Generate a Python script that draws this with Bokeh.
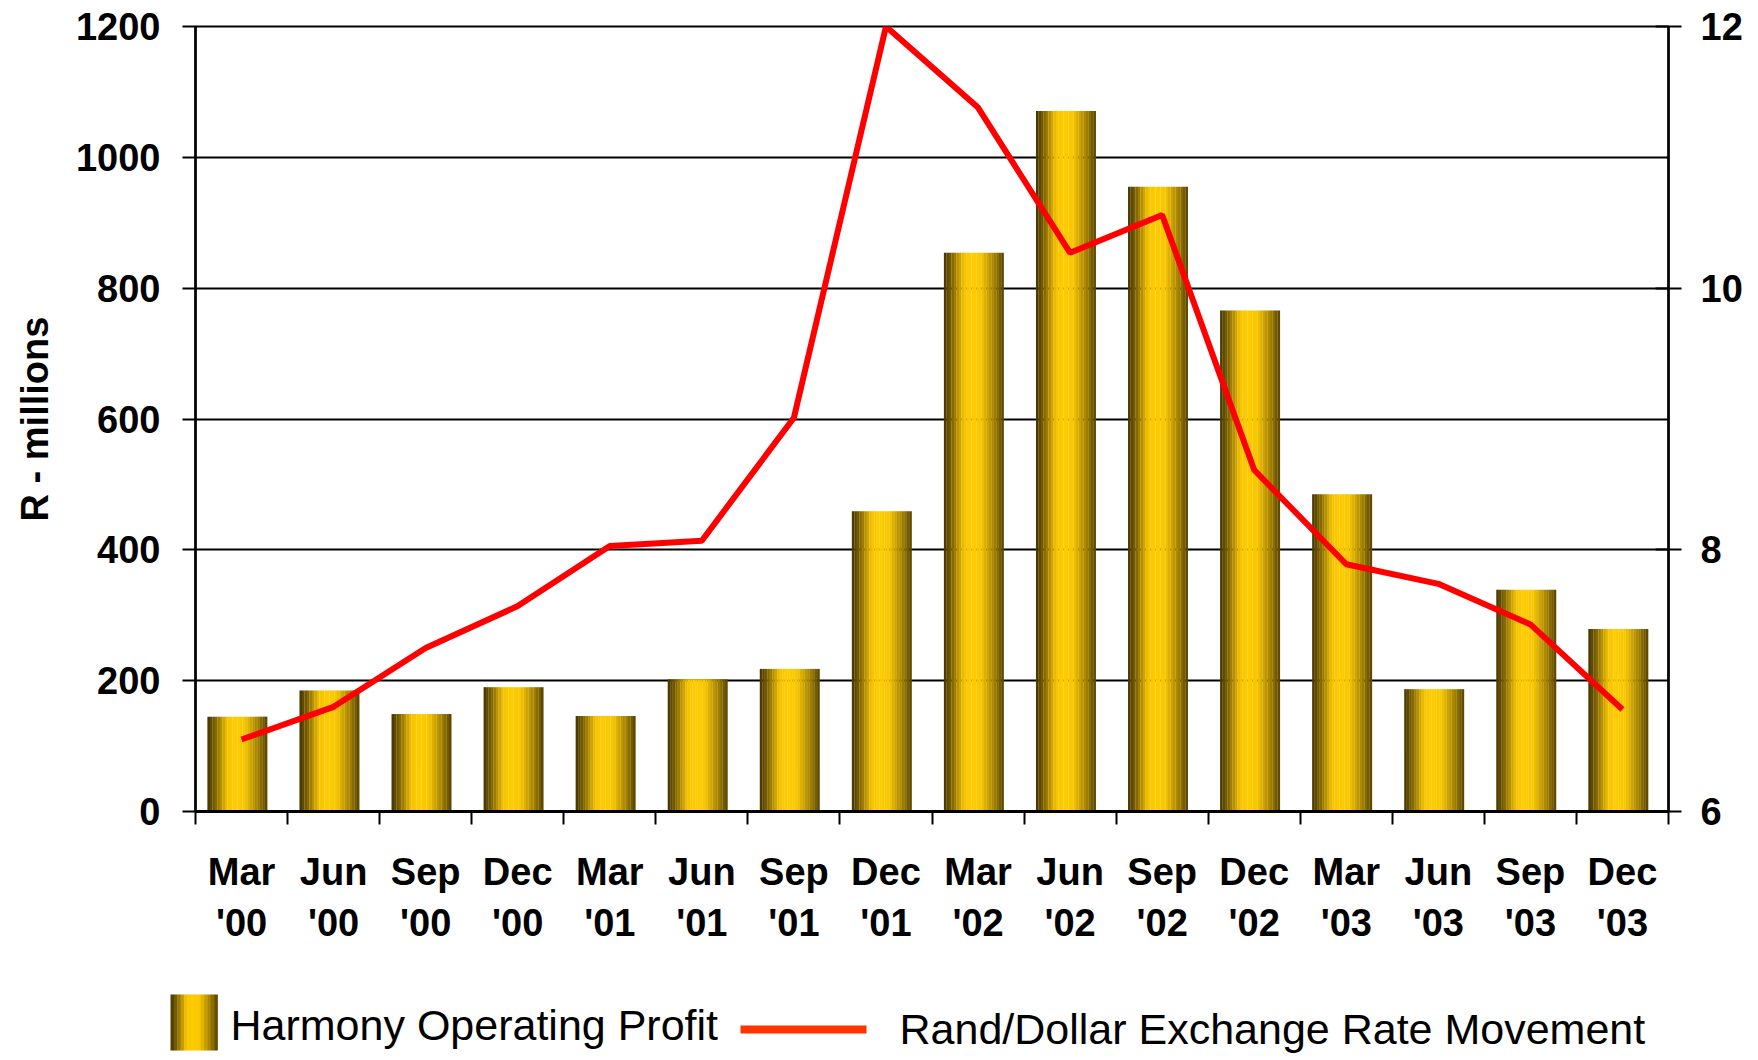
import numpy as np
from bokeh.plotting import figure
from bokeh.models import Range1d, LinearAxis, FixedTicker, ColumnDataSource
from bokeh.layouts import column
from bokeh.embed import file_html
from bokeh.resources import INLINE
from bokeh.transform import dodge
from bokeh.core.properties import value

# ---------------- data ----------------
quarters = ["Mar", "Jun", "Sep", "Dec"] * 4
years = ["'00"] * 4 + ["'01"] * 4 + ["'02"] * 4 + ["'03"] * 4
operating_profit = [145, 185, 149, 190, 146, 202, 218, 459, 854, 1071, 955, 766, 485, 187, 339, 279]
exchange_rate = [6.55, 6.80, 7.25, 7.57, 8.03, 8.07, 9.01, 12.0, 11.38, 10.27, 10.56, 8.61, 7.89, 7.74, 7.43, 6.78]
left_ticks = [0, 200, 400, 600, 800, 1000, 1200]
right_ticks = [6, 8, 10, 12]
bar_label = "Harmony Operating Profit"
line_label = "Rand/Dollar Exchange Rate Movement"
y_title = "R - millions"

# ---------------- styles ----------------
FONT = "Liberation Sans"
n_cat = len(quarters)
labels = [f"{q}\n{y}" for q, y in zip(quarters, years)]
centers = [i + 0.5 for i in range(n_cat)]
source = ColumnDataSource(dict(x=centers, top=operating_profit, rate=exchange_rate))

def gold(t):
    stops = [(0.0, (66, 52, 0)), (0.14, (130, 102, 0)), (0.33, (244, 194, 0)),
             (0.45, (255, 204, 0)), (0.62, (248, 198, 0)), (0.85, (160, 126, 0)),
             (1.0, (84, 66, 0))]
    for (t0, c0), (t1, c1) in zip(stops[:-1], stops[1:]):
        if t0 <= t <= t1:
            f = (t - t0) / (t1 - t0)
            c = [int(round(a + (b - a) * f)) for a, b in zip(c0, c1)]
            return "#%02x%02x%02x" % tuple(c)
    return "#ffcc00"

p = figure(width=1750, height=955, x_range=Range1d(0, n_cat), y_range=Range1d(0, 1200),
           min_border_left=195, min_border_right=82, min_border_top=26, min_border_bottom=144,
           output_backend="svg", toolbar_location=None)
p.frame_align = False
p.outline_line_color = "black"
p.outline_line_width = 2
p.xgrid.visible = False
p.ygrid.ticker = FixedTicker(ticks=left_ticks)
p.ygrid.grid_line_color = "black"
p.ygrid.grid_line_width = 2

# gradient bars built from thin strips
n_strips = 24
bar_w = 0.65
bar_off = -0.045
sw = bar_w / n_strips
for k in range(n_strips):
    off = bar_off - bar_w / 2 + sw * (k + 0.5)
    p.vbar(x=dodge("x", off), top="top", bottom=0, width=sw * 1.06, source=source,
           fill_color=gold((k + 0.5) / n_strips), line_color=None)

# exchange rate line on secondary axis
p.extra_y_ranges = {"rate": Range1d(6, 12)}
p.line(x="x", y="rate", source=source, y_range_name="rate", line_color="#ff0000",
       line_width=6)

# left axis
ya = p.yaxis[0]
ya.ticker = FixedTicker(ticks=left_ticks)
ya.major_label_text_font = FONT
ya.major_label_text_font_style = "bold"
ya.major_label_text_font_size = "38px"
ya.major_label_text_color = "black"
ya.major_tick_out = 13
ya.major_tick_in = 0
ya.major_tick_line_width = 2
ya.minor_tick_line_color = None
ya.axis_line_width = 2.5
ya.major_label_standoff = 22
ya.axis_label = y_title
ya.axis_label_text_font = FONT
ya.axis_label_text_font_style = "bold"
ya.axis_label_text_font_size = "38px"
ya.axis_label_text_color = "black"
ya.axis_label_standoff = 17

# right axis
ra = LinearAxis(y_range_name="rate", ticker=FixedTicker(ticks=right_ticks))
ra.major_label_text_font = FONT
ra.major_label_text_font_style = "bold"
ra.major_label_text_font_size = "38px"
ra.major_label_text_color = "black"
ra.major_tick_out = 13
ra.major_tick_in = 13
ra.major_tick_line_width = 2
ra.minor_tick_line_color = None
ra.axis_line_width = 2.5
ra.major_label_standoff = 19
p.add_layout(ra, "right")

# bottom axis: labels at centers, ticks at category boundaries
xa = p.xaxis[0]
xa.ticker = FixedTicker(ticks=centers, minor_ticks=list(range(n_cat + 1)))
xa.major_label_overrides = {c: lab for c, lab in zip(centers, labels)}
xa.major_tick_line_color = None
xa.major_tick_out = 0
xa.major_tick_in = 0
xa.minor_tick_out = 13
xa.minor_tick_in = 0
xa.minor_tick_line_color = "black"
xa.minor_tick_line_width = 2
xa.axis_line_width = 3
xa.major_label_text_font = FONT
xa.major_label_text_font_style = "bold"
xa.major_label_text_font_size = "38px"
xa.major_label_text_color = "black"
xa.major_label_text_line_height = 1.22
xa.major_label_standoff = 26

# ---------------- legend strip ----------------
leg = figure(width=1750, height=100, x_range=Range1d(0, 1750), y_range=Range1d(100, 0),
             min_border=0, x_axis_location=None, y_axis_location=None,
             output_backend="svg", toolbar_location=None)
leg.frame_align = False
leg.outline_line_color = None
leg.grid.visible = False
sw_l, sw_r, sw_t, sw_b = 170, 217, 39, 95
ns = 14
for k in range(ns):
    l = sw_l + (sw_r - sw_l) * k / ns
    r = sw_l + (sw_r - sw_l) * (k + 1) / ns
    leg.quad(left=[l], right=[r + 0.4], top=[sw_t], bottom=[sw_b],
             fill_color=gold((k + 0.5) / ns), line_color=None)
leg.text(x=[230], y=[69], text=[bar_label], text_baseline="middle", text_align="left",
         text_font=value(FONT), text_font_size="43px", text_color="black")
leg.line(x=[740, 866], y=[74, 74], line_color="#ff3300", line_width=8)
leg.text(x=[899], y=[73], text=[line_label], text_baseline="middle", text_align="left",
         text_font=value(FONT), text_font_size="43px", text_color="black")

layout = column(p, leg, spacing=0)
open("out.html", "w").write(file_html(layout, INLINE))
